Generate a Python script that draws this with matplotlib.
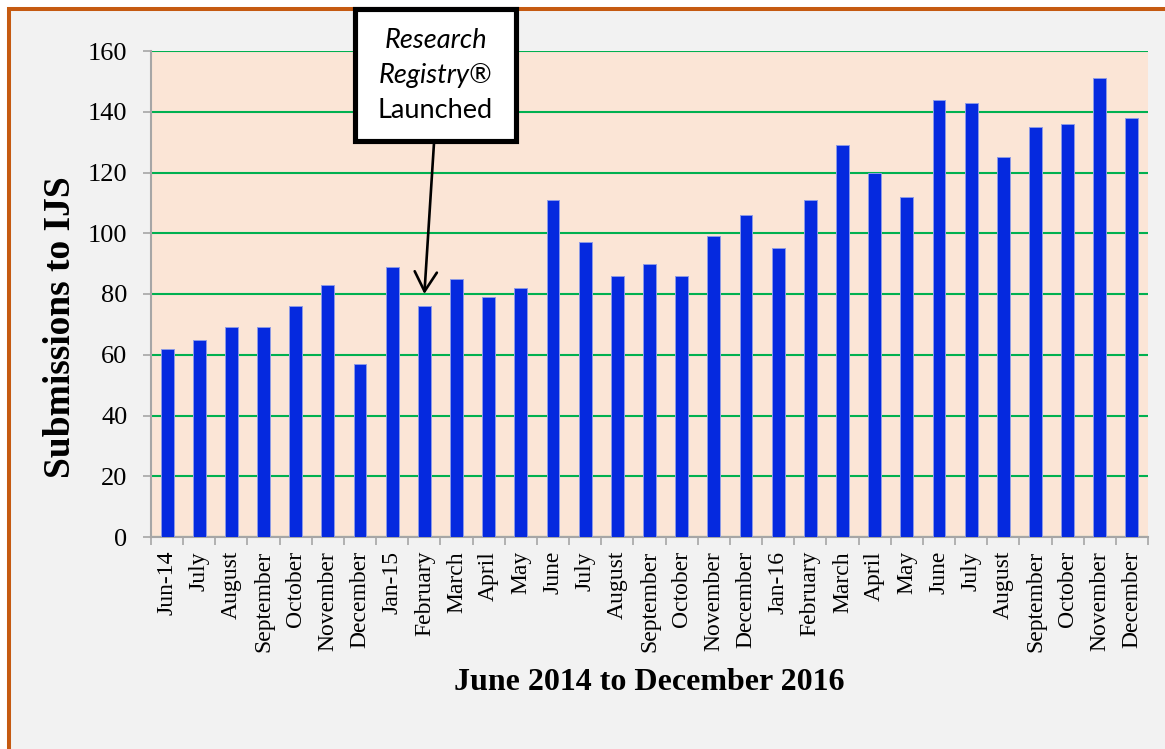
import numpy as np
import matplotlib
matplotlib.use("Agg")
import matplotlib.pyplot as plt
from matplotlib.patches import Rectangle

# Monthly submissions, June 2014 - December 2016
months = ['Jun-14', 'July', 'August', 'September', 'October', 'November', 'December',
          'Jan-15', 'February', 'March', 'April', 'May', 'June', 'July', 'August',
          'September', 'October', 'November', 'December',
          'Jan-16', 'February', 'March', 'April', 'May', 'June', 'July', 'August',
          'September', 'October', 'November', 'December']
submissions = [62, 65, 69, 69, 76, 83, 57,
               89, 76, 85, 79, 82, 111, 97, 86, 90, 86, 99, 106,
               95, 111, 129, 120, 112, 144, 143, 125, 135, 136, 151, 138]
y_ticks = [0, 20, 40, 60, 80, 100, 120, 140, 160]
launch_month = 8  # February 2015

W, H = 1165, 749
fig = plt.figure(figsize=(W / 100, H / 100), dpi=100, facecolor='white')

# grey panel with the orange frame on the top and left
fig.patches.append(Rectangle((9 / W, -0.05), 1.2, (H - 9) / H + 0.05,
                             transform=fig.transFigure, facecolor='#f2f2f2',
                             edgecolor='#c55a11', linewidth=2.9, zorder=-10))

ax = fig.add_axes([151 / W, 1 - 537 / H, (1148 - 151) / W, (537 - 51) / H])
ax.set_zorder(1)
ax.set_facecolor('#fbe5d6')

x = np.arange(len(months))
ax.bar(x, submissions, width=0.4, color='#0529df', edgecolor='#8c9ae6',
       linewidth=0.7, zorder=3)

ax.set_xlim(-0.5, len(months) - 0.5)
ax.set_ylim(0, 160)
ax.set_yticks(y_ticks)
ax.yaxis.grid(True, color='#00b050', linewidth=1.5, zorder=1)
ax.set_axisbelow(True)

for side in ['top', 'right']:
    ax.spines[side].set_visible(False)
for side in ['left', 'bottom']:
    ax.spines[side].set_color('#a6a6a6')
    ax.spines[side].set_linewidth(1.5)

ax.tick_params(axis='y', length=6, width=1.2, color='#a6a6a6', pad=11,
               labelsize=19)
for lbl in ax.get_yticklabels():
    lbl.set_fontfamily('Liberation Serif')

ax.set_xticks(x)
ax.set_xticklabels(months, rotation=90, fontsize=17, fontfamily='Liberation Serif')
ax.set_xticks(np.arange(len(months) + 1) - 0.5, minor=True)
ax.tick_params(axis='x', which='major', length=0, pad=10)
ax.tick_params(axis='x', which='minor', length=6, width=1.2, color='#a6a6a6')

fig.text(61 / W, 1 - 327 / H, 'Submissions to IJS', rotation=90, ha='center',
         va='center', fontsize=27, fontweight='bold', fontfamily='Liberation Serif')
fig.text(649 / W, 1 - 683 / H, 'June 2014 to December 2016', ha='center',
         va='center', fontsize=23, fontweight='bold', fontfamily='Liberation Serif')

# callout box for the launch
fig.patches.append(Rectangle((355 / W, 1 - 141 / H), 161 / W, 132 / H,
                             transform=fig.transFigure, facecolor='white',
                             edgecolor='black', linewidth=3.7, zorder=5))
cx = 435.5 / W
fig.text(cx, 1 - 40 / H, 'Research', ha='center', va='center', fontsize=19.5,
         fontstyle='italic', fontfamily='Lato', zorder=6)
fig.text(cx, 1 - 75 / H, 'Registry®', ha='center', va='center', fontsize=19.5,
         fontstyle='italic', fontfamily='Lato', zorder=6)
fig.text(cx, 1 - 110 / H, 'Launched', ha='center', va='center', fontsize=19.5,
         fontfamily='Lato', zorder=6)

ax.annotate('', xy=(launch_month, submissions[launch_month] + 4),
            xytext=(434 / W, 1 - 143 / H), textcoords='figure fraction',
            arrowprops=dict(arrowstyle='->, head_length=1.4, head_width=0.8',
                            color='black', linewidth=1.9, shrinkA=0, shrinkB=0),
            zorder=6, annotation_clip=False)

fig.savefig('out.png', dpi=100, facecolor=fig.get_facecolor())
